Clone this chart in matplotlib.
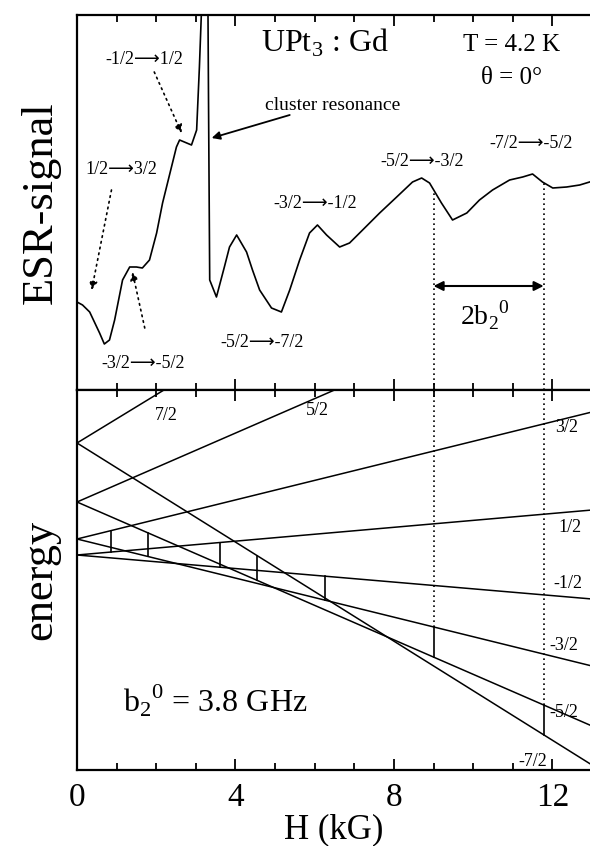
import numpy as np
import matplotlib
matplotlib.use('Agg')
import matplotlib.pyplot as plt
from matplotlib.ticker import MultipleLocator

plt.rcParams['font.family'] = ['Liberation Serif', 'DejaVu Sans']

# ESR trace (H in kG, signal in arb. units)
esr_h = [0.0, 0.14, 0.32, 0.57, 0.69, 0.82, 0.95, 1.15, 1.33, 1.50, 1.65, 1.83,
         2.01, 2.16, 2.51, 2.59, 2.71, 2.89, 3.02, 3.09, 3.14, 3.17,
         3.30, 3.32, 3.35, 3.52, 3.72, 3.85, 4.03, 4.28, 4.43, 4.61, 4.91, 5.16,
         5.37, 5.62, 5.87, 6.07, 6.30, 6.63, 6.88, 7.21, 7.64, 8.07, 8.47, 8.70,
         8.90, 9.20, 9.48, 9.84, 10.16, 10.49, 10.92, 11.25, 11.50, 11.75, 12.01,
         12.36, 12.69, 12.94]
esr_s = [88, 85, 78, 57, 46, 50, 70, 110, 123, 123, 122, 130,
         157, 187, 243, 250, 248, 245, 260, 323, 377, 420,
         420, 290, 110, 93, 123, 143, 155, 138, 120, 100, 82, 78,
         100, 130, 157, 165, 155, 143, 147, 160, 177, 193, 208, 212,
         207, 187, 170, 177, 190, 200, 210, 213, 216, 208, 202,
         203, 205, 208]

# Gd levels: energy at H = 0 and H = 13 kG (arb. units)
lev_h = [0, 13]
lev_m = ['7/2', '5/2', '3/2', '1/2', '-1/2', '-3/2', '-5/2', '-7/2']
lev_e0 = [327, 268, 231, 215, 215, 231, 268, 327]
lev_e13 = [641, 492, 358, 260, 171, 104, 44, 5]

# resonance positions and the pair of levels joined
res_h = [0.85, 1.78, 3.6, 4.55, 6.25, 9.0, 11.78]
res_lo = ['1/2', '-5/2', '-1/2', '-7/2', '-3/2', '-5/2', '-7/2']
res_hi = ['3/2', '-3/2', '1/2', '-5/2', '-1/2', '-3/2', '-5/2']


def level(m, h):
    i = lev_m.index(m)
    return np.interp(h, lev_h, [lev_e0[i], lev_e13[i]])


fig = plt.figure(figsize=(5.9, 8.46), dpi=100)
ax1 = fig.add_axes([77 / 590, 456 / 846, 1 - 77 / 590, 375 / 846])
ax2 = fig.add_axes([77 / 590, 76 / 846, 1 - 77 / 590, 380 / 846])

for ax in (ax1, ax2):
    ax.set_xlim(0, 12.95)
    ax.spines['right'].set_visible(False)
    for s in ('left', 'top', 'bottom'):
        ax.spines[s].set_linewidth(1.6)
    ax.set_yticks([])
    ax.xaxis.set_major_locator(MultipleLocator(4))
    ax.xaxis.set_minor_locator(MultipleLocator(1))
    ax.tick_params(axis='x', which='both', top=True, bottom=True, direction='in', width=1.3)
    ax.tick_params(axis='x', which='major', length=8)
    ax.tick_params(axis='x', which='minor', length=5)

# upper panel
ax1.plot(esr_h, esr_s, color='k', lw=1.2)
ax1.set_ylim(0, 375)
ax1.tick_params(axis='x', labelbottom=False)

for h in res_h[5:]:
    ax1.plot([h, h], [0, np.interp(h, esr_h, esr_s)], color='k', ls=(0, (1, 2)), lw=1.2)
ax1.annotate('', xy=(res_h[5], 104), xytext=(res_h[6], 104),
             arrowprops=dict(arrowstyle='<|-|>', color='k', lw=1.5, mutation_scale=14,
                             shrinkA=0, shrinkB=0))
ax1.text(10.3, 75, r'2b$_\mathregular{2}$$^\mathregular{0}$', fontsize=20, ha='center', va='center')

ax1.text(6.26, 347, r'UPt$_\mathregular{3}$ : Gd', fontsize=23, ha='center', va='center')
ax1.text(10.97, 345, 'T = 4.2 K', fontsize=18, ha='center', va='center')
ax1.text(10.97, 312, '\u03b8 = 0\u00b0', fontsize=18, ha='center', va='center')
ax1.text(6.45, 285, 'cluster resonance', fontsize=14, ha='center', va='center')
ax1.annotate('', xy=(3.4, 252), xytext=(5.37, 275),
             arrowprops=dict(arrowstyle='-|>', color='k', lw=1.3, mutation_scale=12,
                             shrinkA=0, shrinkB=0))

arrow_txt = [('-1/2', '1/2', 1.7, 330), ('1/2', '3/2', 1.12, 220),
             ('-3/2', '-5/2', 1.68, 27), ('-3/2', '-1/2', 6.02, 187),
             ('-5/2', '-3/2', 8.72, 228), ('-7/2', '-5/2', 11.45, 247),
             ('-5/2', '-7/2', 4.66, 48)]
for a, b, x, y in arrow_txt:
    ax1.text(x, y, a + '\u27f6' + b, fontsize=13, ha='center', va='center')

dots = dict(arrowstyle='-|>', color='k', lw=1.2, ls=(0, (1, 2.5)), mutation_scale=12,
            shrinkA=0, shrinkB=0)
ax1.annotate('', xy=(2.64, 257), xytext=(1.95, 318), arrowprops=dots)
ax1.annotate('', xy=(0.37, 100), xytext=(0.87, 200), arrowprops=dots)
ax1.annotate('', xy=(1.40, 118), xytext=(1.71, 62), arrowprops=dots)

ax1.set_ylabel('ESR-signal', fontsize=32, labelpad=12)

# lower panel
for i in range(len(lev_m)):
    ax2.plot(lev_h, [lev_e0[i], lev_e13[i]], color='k', lw=1.1)
for h, lo, hi in zip(res_h, res_lo, res_hi):
    ax2.plot([h, h], [level(lo, h), level(hi, h)], color='k', lw=1.2)
for h, hi in zip(res_h[5:], res_hi[5:]):
    ax2.plot([h, h], [level(hi, h), 380], color='k', ls=(0, (1, 2)), lw=1.2)
ax2.set_ylim(0, 380)
ax2.tick_params(axis='x', labelsize=24, pad=9)
ax2.set_xticks([0, 4, 8, 12])

lab_pos = [(2.26, 355), (6.07, 360), (12.36, 343), (12.44, 243),
           (12.4, 187), (12.3, 124), (12.3, 58), (11.5, 9)]
for m, (x, y) in zip(lev_m, lab_pos):
    ax2.text(x, y, m, fontsize=13, ha='center', va='center')

ax2.text(3.5, 69, r'b$_\mathregular{2}$$^\mathregular{0}$ = 3.8 GHz', fontsize=23,
         ha='center', va='center')

ax2.set_ylabel('energy', fontsize=32, labelpad=12)
ax2.set_xlabel('H (kG)', fontsize=25, labelpad=0)

fig.savefig('out.png', dpi=100)
